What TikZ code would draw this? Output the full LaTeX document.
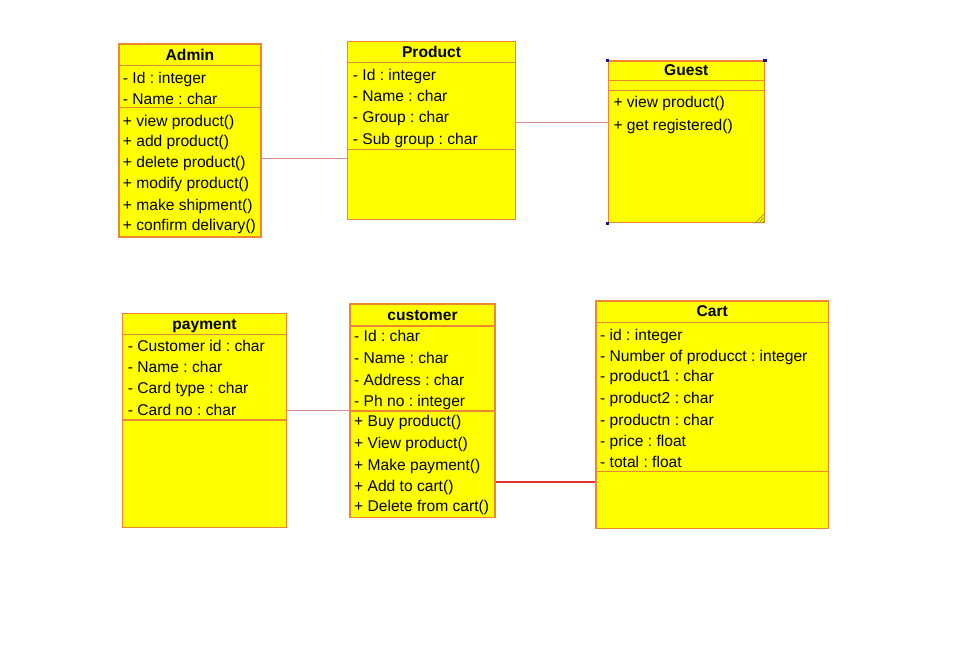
\documentclass[tikz,border=0pt]{standalone}
\usepackage{fontspec}
\setmainfont{Liberation Sans}
\frenchspacing
\definecolor{umlfill}{RGB}{255,255,0}
\definecolor{umlborder}{RGB}{238,136,48}
\definecolor{linkpink}{RGB}{226,136,146}
\definecolor{linkred}{RGB}{226,48,48}
\definecolor{handle}{RGB}{20,20,150}
\tikzset{
  classbox/.style={draw=umlborder, fill=umlfill, line width=1.2pt, inner sep=0pt, rectangle},
  sepline/.style={draw=umlborder, line width=1.2pt},
  member/.style={anchor=west, inner sep=0pt, text height=11pt, text depth=1pt, font=\fontsize{15.6}{18}\selectfont\frenchspacing},
  title/.style={anchor=center, inner sep=0pt, text height=11pt, text depth=1pt, font=\fontsize{15.6}{18}\selectfont\bfseries},
  link/.style={draw=linkpink, line width=1pt},
  linkstrong/.style={draw=linkred, line width=1.6pt},
  grip/.style={fill=handle, draw=none, minimum size=3.5pt, inner sep=0pt, rectangle}
}
\begin{document}
\begin{tikzpicture}[x=1pt,y=-1pt]
\useasboundingbox (0,0) rectangle (970,664);
\fill[white] (0,0) rectangle (970,664);

% ---------- Admin ----------
\node[classbox, minimum width=142pt, minimum height=193pt] (admin) at (190,140.5) {};
\draw[sepline] (admin.west |- 0,65.7) -- (admin.east |- 0,65.7);
\draw[sepline] (admin.west |- 0,107.7) -- (admin.east |- 0,107.7);
\node[title] (admin-t) at (190,55) {Admin};
\node[member] (admin-a1) at (122.7,78) {- Id : integer};
\node[member] (admin-a2) at (122.7,99) {- Name : char};
\node[member] (admin-m1) at (122.7,121) {+ view product()};
\node[member] (admin-m2) at (122.7,141.7) {+ add product()};
\node[member] (admin-m3) at (122.7,162.3) {+ delete product()};
\node[member] (admin-m4) at (122.7,183.3) {+ modify product()};
\node[member] (admin-m5) at (122.7,205) {+ make shipment()};
\node[member] (admin-m6) at (122.7,225.7) {+ confirm delivary()};

% ---------- Product ----------
\node[classbox, minimum width=168.5pt, minimum height=177.6pt] (product) at (431.5,130.5) {};
\draw[sepline] (product.west |- 0,62.7) -- (product.east |- 0,62.7);
\draw[sepline] (product.west |- 0,149.3) -- (product.east |- 0,149.3);
\node[title] (product-t) at (431.5,52) {Product};
\node[member] (product-a1) at (352.7,75) {- Id : integer};
\node[member] (product-a2) at (352.7,96.7) {- Name : char};
\node[member] (product-a3) at (352.7,117.3) {- Group : char};
\node[member] (product-a4) at (352.7,139) {- Sub group : char};

% ---------- Guest ----------
\node[classbox, minimum width=156pt, minimum height=161.7pt] (guest) at (686.3,141.8) {};
\draw[sepline] (guest.west |- 0,80.7) -- (guest.east |- 0,80.7);
\draw[sepline] (guest.west |- 0,90.7) -- (guest.east |- 0,90.7);
\node[title] (guest-t) at (686.3,70.5) {Guest};
\node[member] (guest-m1) at (613.3,102.7) {+ view product()};
\node[member] (guest-m2) at (613.3,125) {+ get registered()};
\node[grip] (guest-g1) at (guest.north west) {};
\node[grip] (guest-g2) at (guest.north east) {};
\node[grip] (guest-g3) at (guest.south west) {};
\draw[draw={rgb,255:red,150;green,140;blue,40}, line width=0.7pt]
  ([xshift=-10pt]guest.south east) -- ([yshift=10pt]guest.south east)
  ([xshift=-6.5pt]guest.south east) -- ([yshift=6.5pt]guest.south east)
  ([xshift=-3pt]guest.south east) -- ([yshift=3pt]guest.south east);

% ---------- payment ----------
\node[classbox, minimum width=164.4pt, minimum height=214.4pt] (payment) at (204.5,420.5) {};
\draw[sepline] (payment.west |- 0,334.3) -- (payment.east |- 0,334.3);
\draw[sepline] (payment.west |- 0,420) -- (payment.east |- 0,420);
\node[title] (payment-t) at (204.5,324) {payment};
\node[member] (payment-a1) at (127.7,346.7) {- Customer id : char};
\node[member] (payment-a2) at (127.7,367.3) {- Name : char};
\node[member] (payment-a3) at (127.7,388.3) {- Card type : char};
\node[member] (payment-a4) at (127.7,410) {- Card no : char};

% ---------- customer ----------
\node[classbox, minimum width=145pt, minimum height=213.7pt] (customer) at (422.5,410.9) {};
\draw[sepline] (customer.west |- 0,326) -- (customer.east |- 0,326);
\draw[sepline] (customer.west |- 0,411) -- (customer.east |- 0,411);
\node[title] (customer-t) at (422.5,315.5) {customer};
\node[member] (customer-a1) at (354,336.7) {- Id : char};
\node[member] (customer-a2) at (354,358.3) {- Name : char};
\node[member] (customer-a3) at (354,380) {- Address : char};
\node[member] (customer-a4) at (354,401) {- Ph no : integer};
\node[member] (customer-m1) at (354,421.7) {+ Buy product()};
\node[member] (customer-m2) at (354,443.3) {+ View product()};
\node[member] (customer-m3) at (354,465) {+ Make payment()};
\node[member] (customer-m4) at (354,486.7) {+ Add to cart()};
\node[member] (customer-m5) at (354,506.7) {+ Delete from cart()};

% ---------- Cart ----------
\node[classbox, minimum width=232.3pt, minimum height=227.3pt] (cart) at (712.2,414.7) {};
\draw[sepline] (cart.west |- 0,322.3) -- (cart.east |- 0,322.3);
\draw[sepline] (cart.west |- 0,471.7) -- (cart.east |- 0,471.7);
\node[title] (cart-t) at (712.2,311.7) {Cart};
\node[member] (cart-a1) at (600,335) {- id : integer};
\node[member] (cart-a2) at (600,356) {- Number of producct : integer};
\node[member] (cart-a3) at (600,376.7) {- product1 : char};
\node[member] (cart-a4) at (600,398.3) {- product2 : char};
\node[member] (cart-a5) at (600,420) {- productn : char};
\node[member] (cart-a6) at (600,441.7) {- price : float};
\node[member] (cart-a7) at (600,462.7) {- total : float};

% ---------- connectors ----------
\coordinate (c1) at (0,158.3);
\coordinate (c2) at (0,122.3);
\coordinate (c3) at (0,410);
\coordinate (c4) at (0,481.7);
\draw[link] (admin.east |- c1) -- (product.west |- c1);
\draw[link] (product.east |- c2) -- (guest.west |- c2);
\draw[link] (payment.east |- c3) -- (customer.west |- c3);
\draw[linkstrong] (customer.east |- c4) -- (cart.west |- c4);
\end{tikzpicture}
\end{document}
